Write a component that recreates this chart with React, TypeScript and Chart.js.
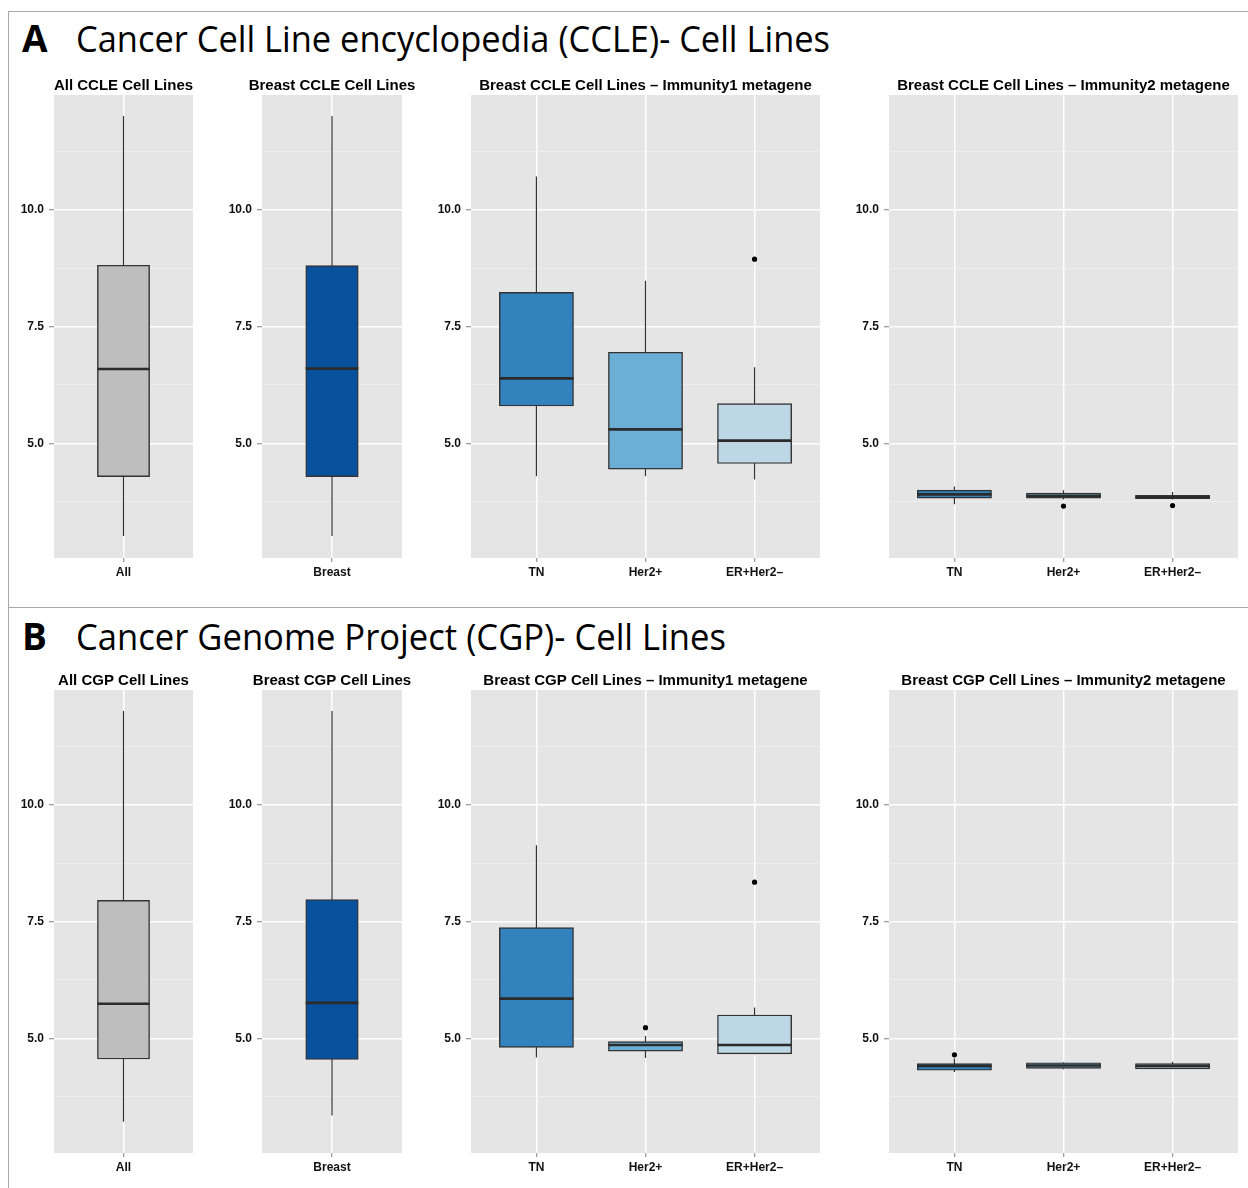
import React, { useEffect, useLayoutEffect, useRef } from 'react';
import { Chart, registerables } from 'chart.js';

Chart.register(...registerables);

// ---------- data ----------
const allCategories = ['All'];
const breastCategories = ['Breast'];
const subtypeCategories = ['TN', 'Her2+', 'ER+Her2–'];
const yTickValues = [3.75, 5.0, 6.25, 7.5, 8.75, 10.0, 11.25];

// each entry: [lower whisker, Q1, median, Q3, upper whisker]
const ccleAllStats = [[3.02, 4.29, 6.59, 8.81, 12.0]];
const ccleBreastStats = [[3.02, 4.29, 6.6, 8.8, 12.0]];
const ccleImm1Stats = [
  [4.3, 5.8, 6.39, 8.23, 10.71],
  [4.3, 4.45, 5.3, 6.95, 8.48],
  [4.23, 4.57, 5.06, 5.85, 6.63],
];
const ccleImm1Outliers = [[], [], [8.94]];
const ccleImm2Stats = [
  [3.7, 3.83, 3.91, 4.0, 4.08],
  [3.8, 3.83, 3.88, 3.94, 4.0],
  [3.8, 3.82, 3.85, 3.89, 3.96],
];
const ccleImm2Outliers = [[], [3.66], [3.67]];

const cgpAllStats = [[3.22, 4.56, 5.74, 7.95, 12.0]];
const cgpBreastStats = [[3.35, 4.55, 5.76, 7.97, 12.0]];
const cgpImm1Stats = [
  [4.59, 4.81, 5.85, 7.37, 9.13],
  [4.58, 4.73, 4.86, 4.93, 5.05],
  [4.66, 4.67, 4.86, 5.5, 5.66],
];
const cgpImm1Outliers = [[], [5.23], [8.34]];
const cgpImm2Stats = [
  [4.28, 4.32, 4.41, 4.46, 4.57],
  [4.34, 4.36, 4.42, 4.48, 4.49],
  [4.34, 4.35, 4.41, 4.46, 4.5],
];
const cgpImm2Outliers = [[4.65], [], []];

// ---------- styles ----------
const grayFill = ['#BEBEBE'];
const darkBlueFill = ['#08519C'];
const subtypeFills = ['#3182BD', '#6BAED6', '#BDD7E7'];
const FONT = "'Liberation Sans', Arial, Helvetica, sans-serif";
const Y_MIN = 2.55;
const Y_MAX = 12.45;

const isMajor = (v: number) => Math.abs(v / 2.5 - Math.round(v / 2.5)) < 1e-6;

const panelBgPlugin = {
  id: 'panelBg',
  beforeDraw(chart: any) {
    const { ctx, chartArea } = chart;
    ctx.save();
    ctx.fillStyle = '#E5E5E5';
    ctx.fillRect(chartArea.left, chartArea.top, chartArea.right - chartArea.left, chartArea.bottom - chartArea.top);
    ctx.restore();
  },
};

const panelTitlePlugin = {
  id: 'panelTitle',
  afterDraw(chart: any, _args: any, opts: any) {
    const { ctx, chartArea } = chart;
    ctx.save();
    ctx.font = `bold 15px ${FONT}`;
    ctx.fillStyle = '#000';
    ctx.textAlign = 'center';
    ctx.textBaseline = 'middle';
    ctx.fillText(opts.text || '', (chartArea.left + chartArea.right) / 2, chartArea.top - 9);
    ctx.restore();
  },
};

type PanelProps = {
  title: string;
  categories: string[];
  stats: number[][];
  outliers: number[][];
  fills: string[];
  left: number;
  top: number;
  width: number;
  height: number;
  boxWidth: number;
  padRight: number;
};

const AXIS_W = 54;
const PAD_TOP = 35;
const AXIS_H = 32;

function Panel(p: PanelProps) {
  const ref = useRef<HTMLCanvasElement>(null);
  const cw = p.width + AXIS_W + p.padRight;
  const ch = p.height + PAD_TOP + AXIS_H;

  useEffect(() => {
    if (!ref.current) return;
    const cats = p.categories;
    const n = cats.length;
    const pxPerUnit = p.width / (n + 0.2);
    const half = p.boxWidth / 2;
    const whiskers: any[] = [];
    const medians: any[] = [];
    const boxes: any[] = [];
    const outs: any[] = [];
    cats.forEach((_c, i) => {
      const x = i + 1;
      const [lo, q1, med, q3, hi] = p.stats[i];
      whiskers.push({ x, y: lo }, { x, y: hi }, { x, y: null });
      medians.push({ x: x - half, y: med }, { x: x + half, y: med }, { x, y: null });
      boxes.push({ x, y: [q1, q3] });
      (p.outliers[i] || []).forEach((v) => outs.push({ x, y: v }));
    });

    const chart = new Chart(ref.current, {
      type: 'bar',
      data: {
        datasets: [
          {
            type: 'scatter',
            data: outs,
            order: 0,
            pointRadius: 2.6,
            pointBackgroundColor: '#000',
            pointBorderColor: '#000',
            pointBorderWidth: 0,
          } as any,
          {
            type: 'line',
            data: medians,
            order: 1,
            borderColor: '#2B2B2B',
            borderWidth: 2.6,
            pointRadius: 0,
            spanGaps: false,
            tension: 0,
            borderCapStyle: 'butt',
          } as any,
          {
            type: 'bar',
            data: boxes,
            order: 2,
            backgroundColor: p.fills,
            borderColor: '#333333',
            borderWidth: 1.4,
            borderSkipped: false,
            barThickness: p.boxWidth * pxPerUnit,
          } as any,
          {
            type: 'line',
            data: whiskers,
            order: 3,
            borderColor: '#333333',
            borderWidth: 1.2,
            pointRadius: 0,
            spanGaps: false,
            tension: 0,
          } as any,
        ],
      },
      options: {
        animation: false,
        responsive: false,
        events: [],
        layout: { padding: { left: 0, top: PAD_TOP, right: p.padRight, bottom: 0 } },
        plugins: {
          legend: { display: false },
          tooltip: { enabled: false },
          panelTitle: { text: p.title },
        } as any,
        scales: {
          x: {
            type: 'linear',
            min: 0.4,
            max: n + 0.6,
            offset: false,
            afterBuildTicks: (s: any) => {
              s.ticks = cats.map((_c, i) => ({ value: i + 1 }));
            },
            afterFit: (s: any) => {
              s.height = AXIS_H;
            },
            ticks: {
              callback: (v: any) => cats[Math.round(Number(v)) - 1] ?? '',
              autoSkip: false,
              maxRotation: 0,
              minRotation: 0,
              padding: 3,
              color: '#111',
              font: { family: FONT, size: 12, weight: 'bold' },
            },
            grid: {
              offset: false,
              color: '#FFFFFF',
              lineWidth: 1.5,
              tickColor: '#7F7F7F',
              tickLength: 4,
              tickWidth: 1,
            },
            border: { display: false },
          } as any,
          y: {
            type: 'linear',
            min: Y_MIN,
            max: Y_MAX,
            beginAtZero: false,
            afterBuildTicks: (s: any) => {
              s.ticks = yTickValues.map((v) => ({ value: v }));
            },
            afterFit: (s: any) => {
              s.width = AXIS_W;
            },
            ticks: {
              callback: (v: any) => (isMajor(Number(v)) ? Number(v).toFixed(1) : ''),
              padding: 5,
              color: '#111',
              font: { family: FONT, size: 12, weight: 'bold' },
            },
            grid: {
              color: (ctx: any) => (ctx.tick && isMajor(ctx.tick.value) ? '#FFFFFF' : '#F0F0F0'),
              lineWidth: (ctx: any) => (ctx.tick && isMajor(ctx.tick.value) ? 1.5 : 0.8),
              tickColor: (ctx: any) => (ctx.tick && isMajor(ctx.tick.value) ? '#7F7F7F' : 'rgba(0,0,0,0)'),
              tickLength: 5,
              tickWidth: 1,
            },
            border: { display: false },
          } as any,
        },
      },
      plugins: [panelBgPlugin, panelTitlePlugin],
    } as any);
    return () => chart.destroy();
  }, []);

  return (
    <canvas
      ref={ref}
      width={cw}
      height={ch}
      style={{
        position: 'absolute',
        left: p.left - AXIS_W,
        top: p.top - PAD_TOP,
        width: cw,
        height: ch,
      }}
    />
  );
}

function BigTitle({ letter, text, top, textWidth }: { letter: string; text: string; top: number; textWidth: number }) {
  const ref = useRef<HTMLSpanElement>(null);
  useLayoutEffect(() => {
    const fit = () => {
      const el = ref.current;
      if (!el) return;
      el.style.transform = 'none';
      const w = el.getBoundingClientRect().width;
      if (w > 0) el.style.transform = `scaleX(${textWidth / w})`;
    };
    fit();
    const f: any = (document as any).fonts;
    if (f && f.ready) f.ready.then(fit);
  }, []);
  const common: React.CSSProperties = {
    position: 'absolute',
    top,
    fontFamily: "'Open Sans', 'Noto Sans', sans-serif",
    fontSize: 37,
    lineHeight: '37px',
    color: '#000',
    whiteSpace: 'nowrap',
  };
  return (
    <>
      <span style={{ ...common, left: 22, fontWeight: 700 }}>{letter}</span>
      <span ref={ref} style={{ ...common, left: 76, fontWeight: 400, transformOrigin: '0 0', display: 'inline-block' }}>
        {text}
      </span>
    </>
  );
}

const ROW_A_TOP = 95;
const ROW_B_TOP = 690;
const PLOT_H = 463;

type PanelDef = Omit<PanelProps, 'top' | 'height'>;

const rowA: PanelDef[] = [
  { title: 'All CCLE Cell Lines', categories: allCategories, stats: ccleAllStats, outliers: [[]], fills: grayFill, left: 54, width: 139, boxWidth: 0.45, padRight: 20 },
  { title: 'Breast CCLE Cell Lines', categories: breastCategories, stats: ccleBreastStats, outliers: [[]], fills: darkBlueFill, left: 262, width: 140, boxWidth: 0.45, padRight: 20 },
  { title: 'Breast CCLE Cell Lines – Immunity1 metagene', categories: subtypeCategories, stats: ccleImm1Stats, outliers: ccleImm1Outliers, fills: subtypeFills, left: 471, width: 349, boxWidth: 0.68, padRight: 20 },
  { title: 'Breast CCLE Cell Lines – Immunity2 metagene', categories: subtypeCategories, stats: ccleImm2Stats, outliers: ccleImm2Outliers, fills: subtypeFills, left: 889, width: 349, boxWidth: 0.68, padRight: 10 },
];

const rowB: PanelDef[] = [
  { title: 'All CGP Cell Lines', categories: allCategories, stats: cgpAllStats, outliers: [[]], fills: grayFill, left: 54, width: 139, boxWidth: 0.45, padRight: 20 },
  { title: 'Breast CGP Cell Lines', categories: breastCategories, stats: cgpBreastStats, outliers: [[]], fills: darkBlueFill, left: 262, width: 140, boxWidth: 0.45, padRight: 20 },
  { title: 'Breast CGP Cell Lines – Immunity1 metagene', categories: subtypeCategories, stats: cgpImm1Stats, outliers: cgpImm1Outliers, fills: subtypeFills, left: 471, width: 349, boxWidth: 0.68, padRight: 20 },
  { title: 'Breast CGP Cell Lines – Immunity2 metagene', categories: subtypeCategories, stats: cgpImm2Stats, outliers: cgpImm2Outliers, fills: subtypeFills, left: 889, width: 349, boxWidth: 0.68, padRight: 10 },
];

export default function App() {
  const line = '#A8A8A8';
  return (
    <div
      style={{
        position: 'absolute',
        left: 0,
        top: 0,
        width: 1248,
        height: 1188,
        overflow: 'hidden',
        background: '#FFFFFF',
      }}
    >
      {/* frame lines */}
      <div style={{ position: 'absolute', left: 8, top: 11, width: 1240, height: 1.4, background: line }} />
      <div style={{ position: 'absolute', left: 8, top: 11, width: 1.4, height: 1177, background: line }} />
      <div style={{ position: 'absolute', left: 8, top: 607, width: 1240, height: 1.4, background: line }} />

      <BigTitle letter="A" text="Cancer Cell Line encyclopedia (CCLE)- Cell Lines" top={19} textWidth={754} />
      <BigTitle letter="B" text="Cancer Genome Project (CGP)- Cell Lines" top={617} textWidth={650} />

      {rowA.map((d, i) => (
        <Panel key={'a' + i} {...d} top={ROW_A_TOP} height={PLOT_H} />
      ))}
      {rowB.map((d, i) => (
        <Panel key={'b' + i} {...d} top={ROW_B_TOP} height={PLOT_H} />
      ))}
    </div>
  );
}
